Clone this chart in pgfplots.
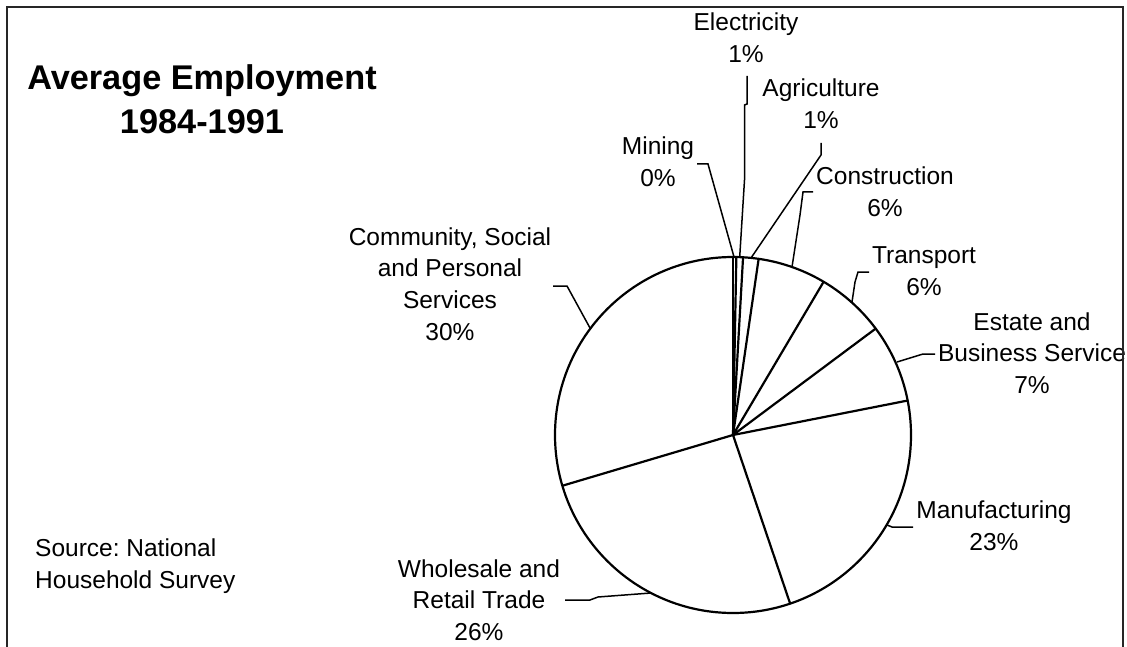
\documentclass[border=0pt]{standalone}
\usepackage{fontspec}
\setmainfont{Liberation Sans}
\usepackage{pgfplots}
\usepackage{pgfplotstable}
\pgfplotsset{compat=1.18}
\pgfkeys{/pgf/number format/assume math mode=true}

% Share of average employment 1984-1991, in percent, clockwise from 12 o'clock
\pgfplotstableread{
sector        share
Mining        0.3
Electricity   0.6
Agriculture   1.4
Construction  6.2
Transport     6.3
Estate        7.1
Manufacturing 22.9
Wholesale     25.6
Community     29.6
}\employment

% pie centre and radius (axis units = picture points)
\def\cx{733}
\def\cy{435}
\def\R{178}

% cumulative shares -> end point of each sector's boundary on the rim
\def\cum{0}
\pgfplotsforeachungrouped \i in {0,...,8}{%
  \pgfplotstablegetelem{\i}{share}\of\employment
  \expandafter\xdef\csname share\i\endcsname{\pgfplotsretval}%
  \pgfmathsetmacro\cum{\cum+\pgfplotsretval}%
  \pgfmathsetmacro\ang{3.6*\cum}%
  \pgfmathsetmacro\px{\cx+\R*sin(\ang)}%
  \pgfmathsetmacro\py{\cy-\R*cos(\ang)}%
  \expandafter\xdef\csname edgex\i\endcsname{\px}%
  \expandafter\xdef\csname edgey\i\endcsname{\py}%
}
\newcommand\pct[1]{\pgfmathprintnumber[fixed,precision=0]{\csname share#1\endcsname}\%}
\newcommand\labelfont{\fontsize{24.5}{31.7}\selectfont}
\newcommand\titlefont{\fontsize{34.3}{44}\selectfont\bfseries}
\tikzset{
  lab/.style={font=\labelfont, align=center, inner sep=0pt},
  leader/.style={line width=1.5pt, black},
}

\begin{document}
\frenchspacing
\begin{tikzpicture}
\begin{axis}[
  width=1127pt, height=647pt, scale only axis,
  xmin=0, xmax=1127, ymin=0, ymax=647,
  y dir=reverse,
  hide axis, clip=false,
]
% spokes between sectors
\pgfplotsinvokeforeach{0,...,8}{
  \draw[line width=2.2pt, black] (axis cs:\cx,\cy) -- (axis cs:\csname edgex#1\endcsname,\csname edgey#1\endcsname);
}
% rim
\draw[line width=2.2pt, black] (axis cs:\cx,\cy) circle[radius=\R];

% leader lines
\draw[leader] (axis cs:747,76) -- (axis cs:747,104) -- (axis cs:744.5,105) -- (axis cs:744.5,180) -- (axis cs:739.7,257);
\draw[leader] (axis cs:821,143) -- (axis cs:821,155) -- (axis cs:751,258);
\draw[leader] (axis cs:697,164) -- (axis cs:708,164) -- (axis cs:734,257);
\draw[leader] (axis cs:813,192) -- (axis cs:803,192) -- (axis cs:800,215) -- (axis cs:792,267);
\draw[leader] (axis cs:869,272) -- (axis cs:858,272) -- (axis cs:855,282) -- (axis cs:852,302);
\draw[leader] (axis cs:935,354) -- (axis cs:923,354) -- (axis cs:897,362);
\draw[leader] (axis cs:913,527) -- (axis cs:892,527) -- (axis cs:887,525);
\draw[leader] (axis cs:565,600) -- (axis cs:590,600) -- (axis cs:598,597) -- (axis cs:651,593);
\draw[leader] (axis cs:553,286) -- (axis cs:567,286) -- (axis cs:590,328);

% sector labels
\node[lab] at (axis cs:746,38) {Electricity\\\pct{1}};
\node[lab] at (axis cs:821,104) {Agriculture\\\pct{2}};
\node[lab] at (axis cs:658,162) {Mining\\\pct{0}};
\node[lab] at (axis cs:885,192) {Construction\\\pct{3}};
\node[lab] at (axis cs:924,271) {Transport\\\pct{4}};
\node[lab] at (axis cs:1032,353) {Estate and\\Business Service\\\pct{5}};
\node[lab] at (axis cs:994,526) {Manufacturing\\\pct{6}};
\node[lab] at (axis cs:479,600) {Wholesale and\\Retail Trade\\\pct{7}};
\node[lab] at (axis cs:450,284) {Community, Social\\and Personal\\Services\\\pct{8}};

% title and source
\node[font=\titlefont, align=center, inner sep=0pt] at (axis cs:202,99) {Average Employment\\1984-1991};
\node[lab, anchor=west, align=left] at (axis cs:35,566) {Source: National\\Household Survey};

% frame
\draw[line width=2.5pt, black!85] (axis cs:7,647) -- (axis cs:7,7) -- (axis cs:1123,7) -- (axis cs:1123,647);
\end{axis}
\pgfresetboundingbox
\path (current axis.south west) rectangle (current axis.north east);
\end{tikzpicture}
\end{document}
